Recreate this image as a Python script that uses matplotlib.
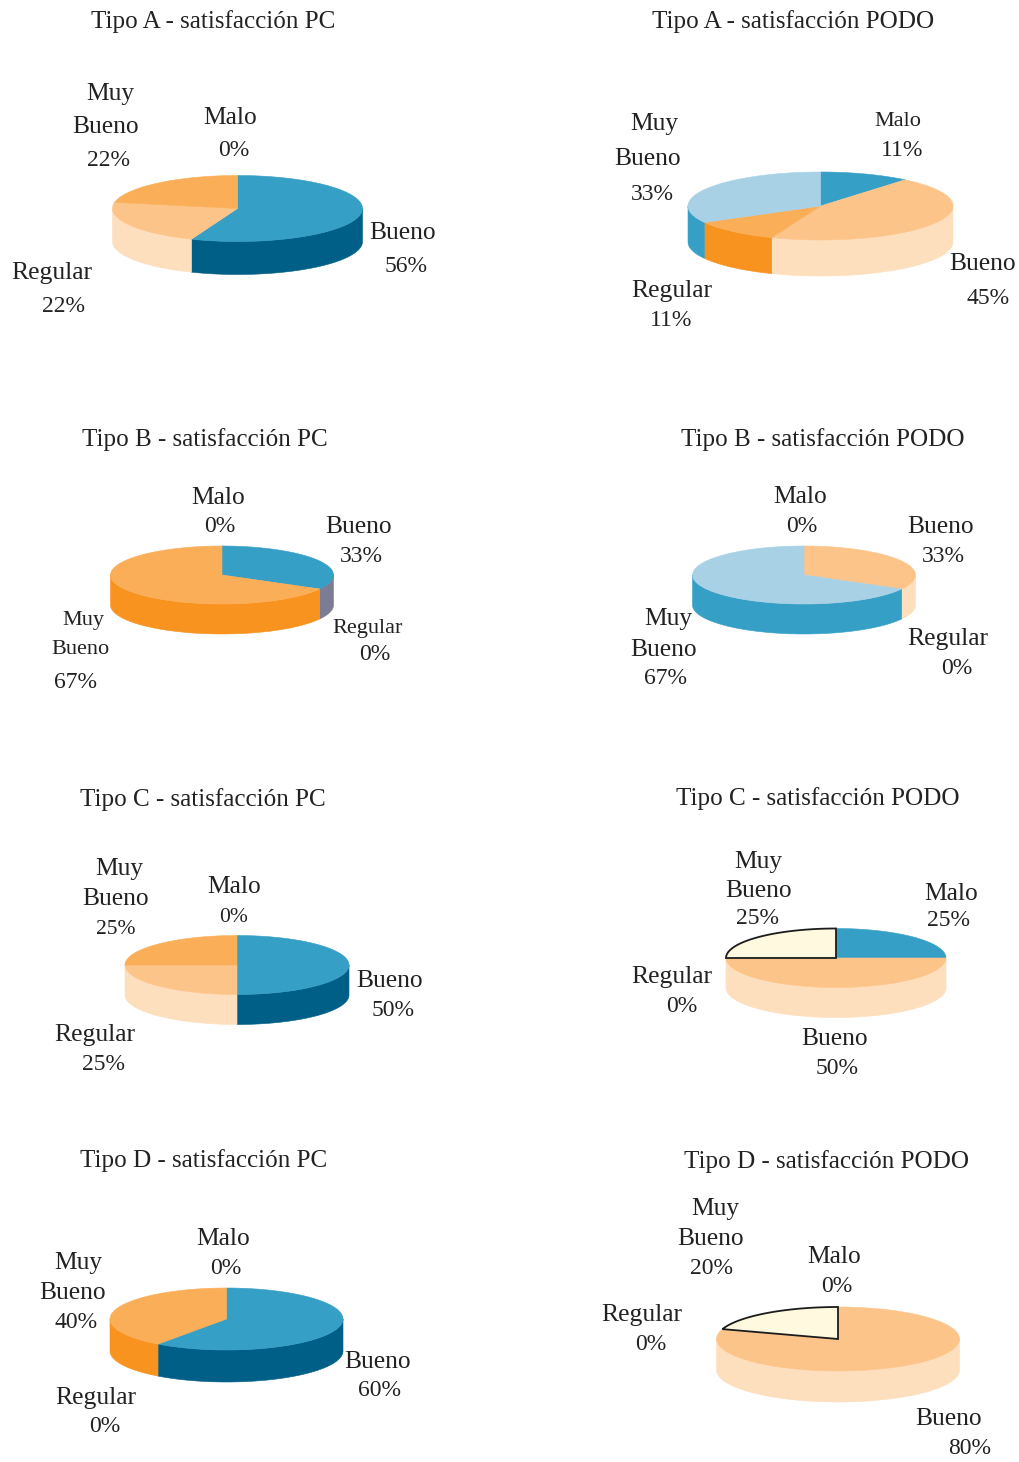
import numpy as np
import matplotlib
matplotlib.use("Agg")
import matplotlib.pyplot as plt
from matplotlib.patches import Polygon

plt.rcParams['font.family'] = ['Liberation Serif', 'DejaVu Serif']

# Satisfaction shares, same category order in every chart
categories = ["Malo", "Bueno", "Regular", "Muy Bueno"]
pc_a = [0, 56, 22, 22]
podo_a = [11, 45, 11, 33]
pc_b = [0, 33, 0, 67]
podo_b = [0, 33, 0, 67]
pc_c = [0, 50, 25, 25]
podo_c = [25, 50, 0, 25]
pc_d = [0, 60, 0, 40]
podo_d = [0, 80, 0, 20]

titles = ["Tipo A - satisfacción PC", "Tipo A - satisfacción PODO",
          "Tipo B - satisfacción PC", "Tipo B - satisfacción PODO",
          "Tipo C - satisfacción PC", "Tipo C - satisfacción PODO",
          "Tipo D - satisfacción PC", "Tipo D - satisfacción PODO"]
series = [pc_a, podo_a, pc_b, podo_b, pc_c, podo_c, pc_d, podo_d]

# Colours as (top, side)
BLUE = '#369fc6'
DARK_BLUE = '#005f87'
PEACH = '#fdc489'
PALE = '#fddfbe'
LIGHT_ORANGE = '#fbae58'
ORANGE = '#f8931f'
LIGHT_BLUE = '#a9d1e6'
CREAM = '#fef9df'
GREY = '#7b7d95'

pc_colors = [(BLUE, DARK_BLUE), (BLUE, DARK_BLUE), (PEACH, PALE), (LIGHT_ORANGE, ORANGE)]
podo_colors = [(BLUE, DARK_BLUE), (PEACH, PALE), (LIGHT_ORANGE, ORANGE), (LIGHT_BLUE, BLUE)]
pc_b_colors = [(BLUE, DARK_BLUE), (BLUE, GREY), (PEACH, PALE), (LIGHT_ORANGE, ORANGE)]
podo_cream = [(BLUE, DARK_BLUE), (PEACH, PALE), (LIGHT_ORANGE, ORANGE), (CREAM, CREAM)]
palettes = [pc_colors, podo_colors, pc_b_colors, podo_colors,
            pc_colors, podo_cream, pc_colors, podo_cream]

# Pie geometry in pixels: cx, cy, rx, ry, depth
pies = [(237.5, 208.5, 125, 33, 33), (820.5, 206, 132.5, 34, 36),
        (222, 575, 111.5, 29, 30), (804, 575, 111.5, 29, 30),
        (237, 965, 112, 29.5, 30), (836, 958, 110, 29.5, 30),
        (226.5, 1319, 116.5, 31, 32), (838, 1339, 121.5, 32, 31)]
title_pos = [(213, 20), (793, 20), (205, 438), (823, 438),
             (203, 798), (818, 797), (204, 1159), (827, 1160)]

# Label line centres per chart, per category: name line(s) then the value line
label_pos = [
    {"Muy Bueno": [(110, 92), (106, 125), (109, 158)], "Malo": [(230, 116), (234, 149)],
     "Bueno": [(403, 231), (406, 264)], "Regular": [(52, 271), (64, 305)]},
    {"Muy Bueno": [(654, 122), (648, 157), (652, 193)], "Malo": [(898, 119), (902, 148)],
     "Bueno": [(983, 262), (988, 297)], "Regular": [(672, 289), (671, 319)]},
    {"Malo": [(218, 496), (220, 525)], "Bueno": [(359, 525), (361, 555)],
     "Muy Bueno": [(83, 618), (80, 648), (76, 680)], "Regular": [(368, 626), (375, 653)]},
    {"Malo": [(800, 495), (802, 525)], "Bueno": [(941, 525), (943, 555)],
     "Muy Bueno": [(668, 617), (664, 648), (666, 677)], "Regular": [(948, 637), (957, 666)]},
    {"Muy Bueno": [(119, 867), (116, 897), (116, 927)], "Malo": [(234, 885), (234, 915)],
     "Bueno": [(390, 979), (393, 1009)], "Regular": [(95, 1033), (104, 1062)]},
    {"Muy Bueno": [(758, 860), (759, 889), (758, 916)], "Malo": [(951, 892), (949, 918)],
     "Regular": [(672, 975), (682, 1005)], "Bueno": [(835, 1037), (837, 1067)]},
    {"Malo": [(223, 1237), (226, 1267)], "Muy Bueno": [(78, 1261), (73, 1291), (76, 1321)],
     "Bueno": [(378, 1360), (380, 1389)], "Regular": [(96, 1396), (105, 1425)]},
    {"Muy Bueno": [(715, 1207), (711, 1237), (712, 1266)], "Malo": [(834, 1255), (837, 1285)],
     "Regular": [(642, 1313), (651, 1343)], "Bueno": [(949, 1417), (970, 1446)]},
]

# A few labels are set smaller: (chart index, category)
small_names = {(1, "Malo"), (2, "Muy Bueno"), (2, "Regular")}
small_values = {(4, "Muy Bueno"), (4, "Malo")}

TEXT = '#222222'
NAME_SIZE = 18.4
VALUE_SIZE = 17
SMALL_NAME = 16
SMALL_VALUE = 15.5
TITLE_SIZE = 18.1
TEXT_DROP = 2  # va='center' sits a little high for this font


def ellipse(cx, cy, rx, ry, t):
    # angle runs clockwise from 12 o'clock
    return cx + rx * np.sin(t), cy - ry * np.cos(t)


def draw_pie(ax, values, colors, geom):
    cx, cy, rx, ry, depth = geom
    edges = np.cumsum([0] + values) / sum(values) * 2 * np.pi

    # Side walls first: only the front half of the rim shows
    for i, (top, side) in enumerate(colors):
        a = max(edges[i], np.pi / 2)
        b = min(edges[i + 1], 3 * np.pi / 2)
        if values[i] == 0 or b <= a:
            continue
        t = np.linspace(a, b, 80)
        x, y = ellipse(cx, cy, rx, ry, t)
        pts = np.r_[np.c_[x, y], np.c_[x[::-1], y[::-1] + depth]]
        ax.add_patch(Polygon(pts, closed=True, fc=side, ec=side, lw=0.4, zorder=2))

    # Top face
    for i, (top, side) in enumerate(colors):
        if values[i] == 0:
            continue
        t = np.linspace(edges[i], edges[i + 1], 120)
        x, y = ellipse(cx, cy, rx, ry, t)
        pts = np.r_[[[cx, cy]], np.c_[x, y]]
        if top == CREAM:
            ax.add_patch(Polygon(pts, closed=True, fc=top, ec='#1c1c1c', lw=1.3, zorder=4))
        else:
            ax.add_patch(Polygon(pts, closed=True, fc=top, ec=top, lw=0.4, zorder=3))


fig = plt.figure(figsize=(10.19, 14.62), dpi=100)
ax = fig.add_axes([0, 0, 1, 1])
ax.set_xlim(0, 1019)
ax.set_ylim(1462, 0)
ax.axis('off')

for n, values in enumerate(series):
    draw_pie(ax, values, palettes[n], pies[n])
    tx, ty = title_pos[n]
    ax.text(tx, ty + TEXT_DROP, titles[n], ha='center', va='center',
            fontsize=TITLE_SIZE, color=TEXT)
    for cat, val in zip(categories, values):
        lines = cat.split(" ") + [f"{val}%"]
        for k, (line, pos) in enumerate(zip(lines, label_pos[n][cat])):
            if k == len(lines) - 1:
                size = SMALL_VALUE if (n, cat) in small_values else VALUE_SIZE
            else:
                size = SMALL_NAME if (n, cat) in small_names else NAME_SIZE
            ax.text(pos[0], pos[1] + TEXT_DROP, line, ha='center', va='center',
                    color=TEXT, fontsize=size, zorder=5)

fig.savefig("out.png", dpi=100)
